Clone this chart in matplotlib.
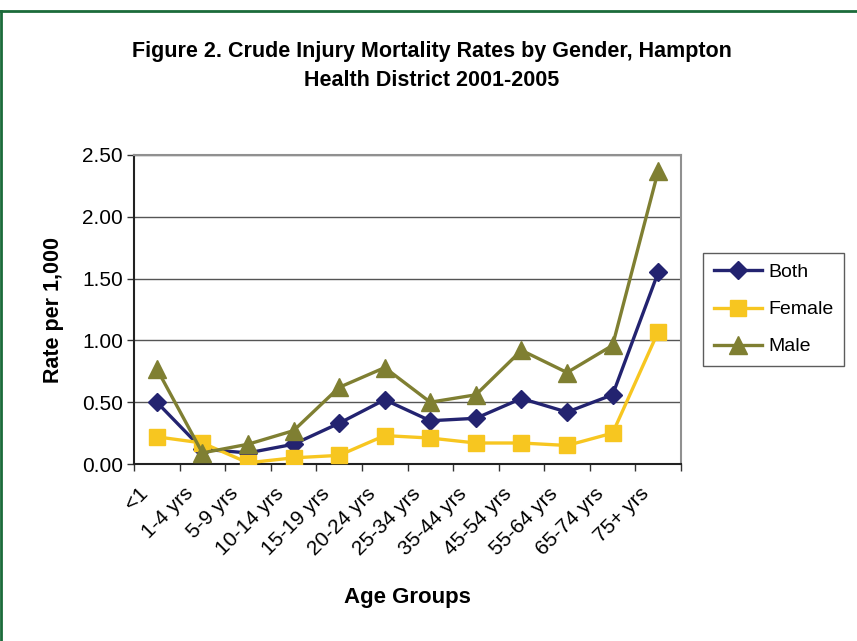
import numpy as np
import matplotlib
matplotlib.use('Agg')
import matplotlib.pyplot as plt
from matplotlib.lines import Line2D
import matplotlib.transforms as mtransforms

plt.rcParams['font.family'] = ['Liberation Sans', 'DejaVu Sans']

# 数据
age_groups = ['<1', '1-4 yrs', '5-9 yrs', '10-14 yrs', '15-19 yrs', '20-24 yrs',
              '25-34 yrs', '35-44 yrs', '45-54 yrs', '55-64 yrs', '65-74 yrs', '75+ yrs']
both = [0.50, 0.12, 0.09, 0.16, 0.33, 0.52, 0.35, 0.37, 0.53, 0.42, 0.56, 1.55]
female = [0.22, 0.17, 0.01, 0.05, 0.07, 0.23, 0.21, 0.17, 0.17, 0.15, 0.25, 1.07]
male = [0.77, 0.09, 0.16, 0.27, 0.62, 0.78, 0.50, 0.56, 0.92, 0.74, 0.96, 2.37]
y_ticks = [0.0, 0.5, 1.0, 1.5, 2.0, 2.5]

c_both = '#232370'
c_female = '#F7C620'
c_male = '#7F7F32'

fig = plt.figure(figsize=(8.57, 6.41), dpi=100)
ax = fig.add_axes([0.1564, 0.2761, 0.6382, 0.4821])

x = np.arange(len(age_groups))
ax.plot(x, both, color=c_both, lw=2.4, marker='D', ms=9.5, label='Both', zorder=3)
ax.plot(x, female, color=c_female, lw=2.4, marker='s', ms=11, label='Female', zorder=3)
ax.plot(x, male, color=c_male, lw=2.4, marker='^', ms=13, label='Male', zorder=3)

ax.set_xlim(-0.5, len(age_groups) - 0.5)
ax.set_ylim(0, 2.5)
ax.set_yticks(y_ticks)
ax.set_yticklabels(['%.2f' % v for v in y_ticks], fontsize=15)
ax.yaxis.grid(True, color='#555555', lw=1)
ax.set_axisbelow(True)

# x轴：刻度线在类别边界，标签在类别中心
ax.set_xticks(x)
ax.set_xticks(np.arange(-0.5, len(age_groups)), minor=True)
ax.tick_params(axis='x', which='major', length=0, pad=2)
ax.tick_params(axis='x', which='minor', length=5, width=1, color='#333333')
ax.tick_params(axis='y', length=5, width=1, color='#333333', pad=3)
ax.set_xticklabels(age_groups, fontsize=15, rotation=45, ha='right', va='top',
                   rotation_mode='anchor')
offset = mtransforms.ScaledTranslation(-19 / 100, -17 / 100, fig.dpi_scale_trans)
for lab in ax.get_xticklabels():
    lab.set_transform(lab.get_transform() + offset)

for s in ['left', 'bottom']:
    ax.spines[s].set_color('#222222')
    ax.spines[s].set_linewidth(1.5)
for s in ['top', 'right']:
    ax.spines[s].set_color('#909090')
    ax.spines[s].set_linewidth(1.5)

ax.set_ylabel('Rate per 1,000', fontsize=15.5, fontweight='bold', labelpad=13)
ax.set_xlabel('Age Groups', fontsize=16, fontweight='bold', labelpad=20)

fig.text(0.504, 0.897, 'Figure 2. Crude Injury Mortality Rates by Gender, Hampton\nHealth District 2001-2005',
         ha='center', va='center', fontsize=15.5, fontweight='bold', linespacing=1.45)

leg = ax.legend(loc='upper left', bbox_to_anchor=(1.04, 0.683), fontsize=14, frameon=True,
                fancybox=False, edgecolor='#333333', handlelength=2.5, borderpad=0.55,
                labelspacing=1.0, handletextpad=0.3, borderaxespad=0)
leg.get_frame().set_linewidth(1)

# 外框（上边和左边）
fig.add_artist(Line2D([0, 1], [1 - 10.5 / 641] * 2, color='#1B6B3A', lw=2, transform=fig.transFigure))
fig.add_artist(Line2D([0.001, 0.001], [0, 1 - 10.5 / 641], color='#1B6B3A', lw=2, transform=fig.transFigure))

fig.savefig('out.png', dpi=100, facecolor='white')
